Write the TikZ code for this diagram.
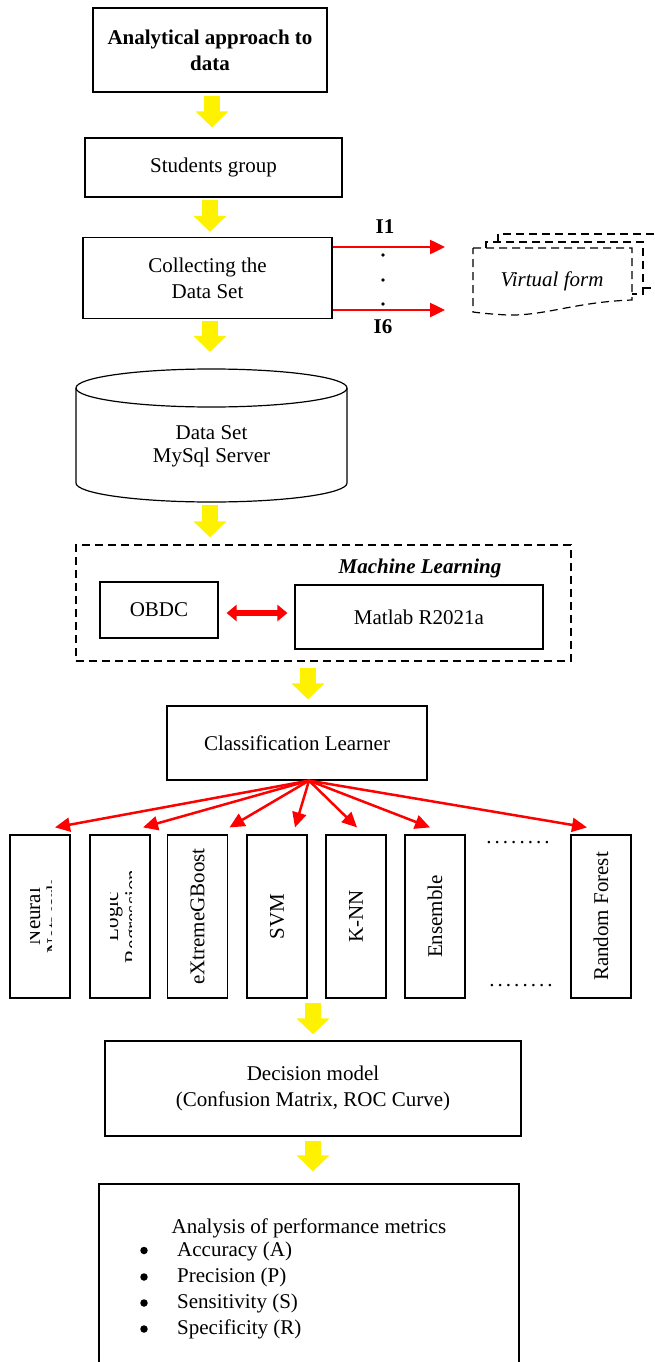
\documentclass[tikz,border=0pt]{standalone}
\usepackage{fontspec}
\setmainfont{Liberation Serif}
\usetikzlibrary{arrows.meta,positioning,calc}

\newcommand{\dotrow}{\hbox to 67pt{\xleaders\hbox to 7.45pt{\hss.\hss}\hfill}}

\begin{document}
\begin{tikzpicture}[x=1pt,y=-1pt,
	font=\fontsize{21}{26}\selectfont,
	box/.style={draw,line width=1.2pt,align=center,inner sep=0pt},
	vbox/.style={box,rotate=90,minimum width=163pt,minimum height=60pt},
	dashline/.style={draw,line width=1.2pt,dash pattern=on 8pt off 5pt},
	bullet/.style={circle,fill,inner sep=0pt,minimum size=7.5pt},
	yarrow/.style={yellow,line width=16pt,-{Triangle[length=16pt,width=32pt]}},
	redarr/.style={red,line width=2.5pt,-{Triangle[length=15pt,width=14pt]}},
	dblarr/.style={red,line width=6.5pt,{Triangle[length=10pt,width=16pt]}-{Triangle[length=10pt,width=16pt]}}]
\clip (0,0) rectangle (655,1362);

\node[box,minimum width=234pt,minimum height=84pt,font=\fontsize{21}{26}\selectfont\bfseries] (top) at (210,50) {Analytical approach to\\data};
\node[box,minimum width=257pt,minimum height=59pt] (students) at (213.5,167.5) {Students group};
\node[box,minimum width=249pt,minimum height=81pt] (collect) at (207.5,278) {Collecting the\\Data Set};

% inputs to the virtual form
\coordinate (in1) at (445,247);
\coordinate (in6) at (445,310);
\draw[redarr] (collect.east |- in1) -- (in1);
\draw[redarr] (collect.east |- in6) -- (in6);
\node[font=\fontsize{21}{26}\selectfont\bfseries,anchor=base] (lbl1) at (385,233) {I1};
\node[font=\fontsize{21}{26}\selectfont\bfseries,anchor=base] (lbl6) at (383,333) {I6};
\fill (383,255) circle[radius=1.8pt] (383,280) circle[radius=1.8pt] (383,304) circle[radius=1.8pt];

\draw[dashline] (498,242) -- (498,234) -- (670,234);
\draw[dashline] (643,288) -- (670,288);
\draw[dashline] (486,248) -- (486,242) -- (643,242) -- (643,294) -- (632,294);
\draw[dashline] (473,248) -- (632,248) -- (632,300)
	.. controls (575,302) and (545,316) .. (507,315)
	.. controls (490,314) and (480,313) .. (473,312) -- cycle;
\node[font=\fontsize{21}{26}\selectfont\itshape] (vf) at (552,281) {Virtual form};

% data base
\coordinate (dbtop) at (211.5,388);
\coordinate (dbbot) at (211.5,483);
\coordinate (dbn) at (211.5,369);
\coordinate (dbs) at (211.5,502);
\draw[line width=1.2pt] (dbtop) ellipse[x radius=135.5pt,y radius=19pt];
\draw[line width=1.2pt] ([xshift=-135.5pt]dbtop) -- ([xshift=-135.5pt]dbbot)
	arc[start angle=180,end angle=360,x radius=135.5pt,y radius=19pt] -- ([xshift=135.5pt]dbtop);
\node[align=center,font=\fontsize{21}{23}\selectfont] (db) at (211.5,446) {Data Set\\MySql Server};

% machine learning
\node[dashline,minimum width=495pt,minimum height=116pt] (ml) at (323.5,603) {};
\node[font=\fontsize{21}{26}\selectfont\bfseries\itshape,anchor=base] (mltitle) at (420,573) {Machine Learning};
\node[box,minimum width=118pt,minimum height=56pt] (obdc) at (159,610) {OBDC};
\node[box,minimum width=248pt,minimum height=64pt] (matlab) at (419,617) {Matlab R2021a};
\draw[dblarr,shorten <=8pt,shorten >=7pt] ([yshift=-3pt]obdc.east) -- ([yshift=-3pt]obdc.east -| matlab.west);

\node[box,minimum width=260pt,minimum height=74pt] (cls) at (297,743) {Classification Learner};

% classifiers
\node[vbox] (nn) at (40,916.5) {};
\node[vbox] (lr) at (120,916.5) {};
\node[vbox] (xgb) at (197.5,916.5) {eXtremeGBoost};
\node[vbox] (svm) at (277,916.5) {SVM};
\node[vbox] (knn) at (356,916.5) {K-NN};
\node[vbox] (ens) at (435,916.5) {Ensemble};
\node[vbox] (rf) at (601,916.5) {Random Forest};
\begin{scope}
\clip (30,840) rectangle (51,990) (110,840) rectangle (131,990);
\node[rotate=90,align=center,font=\fontsize{21}{21}\selectfont] (nntxt) at (43.5,916.5) {Neural\\Network};
\node[rotate=90,align=center,font=\fontsize{21}{21}\selectfont] (lrtxt) at (124,916.5) {Logic\\Regression};
\end{scope}
\node[anchor=base] (dots1) at (518,843) {\dotrow};
\node[anchor=base] (dots2) at (521,986) {\dotrow};

\coordinate (fan) at ([xshift=12pt]cls.south);
\path (fan) edge[redarr] ([xshift=15pt,yshift=7pt]nn.east)
	edge[redarr] ([xshift=23pt,yshift=7pt]lr.east)
	edge[redarr] ([xshift=32pt,yshift=7pt]xgb.east)
	edge[redarr] ([xshift=18pt,yshift=7pt]svm.east)
	edge[redarr] ([xshift=1pt,yshift=7pt]knn.east)
	edge[redarr] ([xshift=-5pt,yshift=7pt]ens.east)
	edge[redarr] ([xshift=-14pt,yshift=7pt]rf.east);

\node[box,minimum width=416pt,minimum height=95pt] (decision) at (313,1088.5) {Decision model\\(Confusion Matrix, ROC Curve)};

% metrics
\node[box,minimum width=420pt,minimum height=191pt] (analysis) at (309,1279.5) {};
\node[anchor=base] (mhead) at (309,1233) {Analysis of performance metrics};
\node[bullet] (b1) at (144,1250.5) {};
\node[bullet] (b2) at (144,1277) {};
\node[bullet] (b3) at (144,1303) {};
\node[bullet] (b4) at (144,1329) {};
\node[anchor=base west,inner xsep=0pt] (macc) at (177,1256) {Accuracy (A)};
\node[anchor=base west,inner xsep=0pt] (mpre) at (177,1282) {Precision (P)};
\node[anchor=base west,inner xsep=0pt] (msen) at (177,1308) {Sensitivity (S)};
\node[anchor=base west,inner xsep=0pt] (mspe) at (177,1334) {Specificity (R)};

% yellow flow arrows
\draw[yarrow,shorten <=3pt,shorten >=10pt] (top.south -| 212,0) -- (students.north -| 212,0);
\draw[yarrow,shorten <=2pt,shorten >=5pt] (students.south -| 210,0) -- (collect.north -| 210,0);
\draw[yarrow,shorten <=2pt,shorten >=17pt] (collect.south -| 210,0) -- (dbn -| 210,0);
\draw[yarrow,shorten <=3pt,shorten >=7pt] (dbs -| 210,0) -- (ml.north -| 210,0);
\draw[yarrow,shorten <=6pt,shorten >=6pt] (ml.south -| 308,0) -- (cls.north -| 308,0);
\draw[yarrow,shorten <=4pt,shorten >=6pt] (svm.west -| 313,0) -- (decision.north -| 313,0);
\draw[yarrow,shorten <=4pt,shorten >=12pt] (decision.south -| 313,0) -- (analysis.north -| 313,0);
\end{tikzpicture}
\end{document}
